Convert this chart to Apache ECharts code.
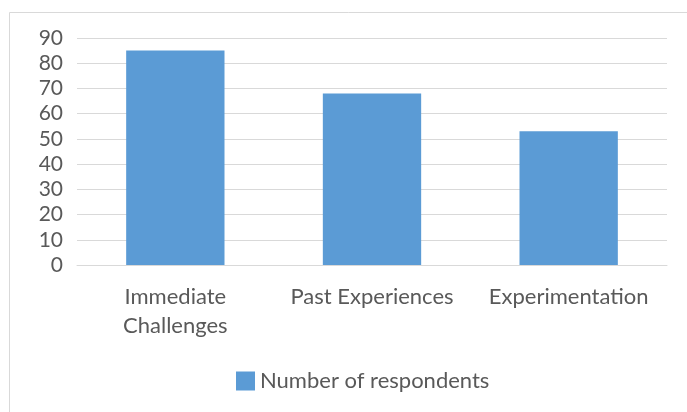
<!DOCTYPE html>
<html><head><meta charset="utf-8">
<script src="https://cdn.jsdelivr.net/npm/echarts@6/dist/echarts.min.js"></script>
<style>html,body{margin:0;padding:0;background:#fff}#c{width:687px;height:412px}</style>
</head><body><div id="c"></div>
<script>
const categories = ['Immediate\nChallenges', 'Past Experiences', 'Experimentation'];
const respondents = [85, 68, 53];
const seriesName = 'Number of respondents';
const yMin = 0, yMax = 90, yStep = 10;

const chart = echarts.init(document.getElementById('c'), null, {renderer: 'canvas'});
const font = 'Lato, "Open Sans", sans-serif';
chart.setOption({
  animation: false,
  backgroundColor: '#fff',
  graphic: [{type: 'rect', shape: {x: 9.5, y: 12.5, width: 700, height: 420}, style: {fill: 'none', stroke: '#d9d9d9', lineWidth: 1}, silent: true}],
  grid: {left: 77, right: 20, top: 38, bottom: 147},
  legend: {
    top: 365, left: 231, itemWidth: 19, itemHeight: 19, itemGap: 4,
    icon: 'rect',
    textStyle: {fontFamily: font, fontSize: 22, color: '#595959'},
    data: [seriesName]
  },
  xAxis: {
    type: 'category', data: categories,
    axisLine: {lineStyle: {color: '#d9d9d9', width: 1}},
    axisTick: {show: false},
    axisLabel: {fontFamily: font, fontSize: 22, color: '#595959', margin: 17, lineHeight: 29, interval: 0}
  },
  yAxis: {
    type: 'value', min: yMin, max: yMax, interval: yStep,
    axisLine: {show: false}, axisTick: {show: false},
    splitLine: {lineStyle: {color: '#d9d9d9', width: 1}},
    axisLabel: {fontFamily: font, fontSize: 21, color: '#595959', margin: 14}
  },
  series: [{
    name: seriesName, type: 'bar', data: respondents,
    barCategoryGap: '50%',
    itemStyle: {color: '#5b9bd5'}
  }]
});
</script></body></html>
